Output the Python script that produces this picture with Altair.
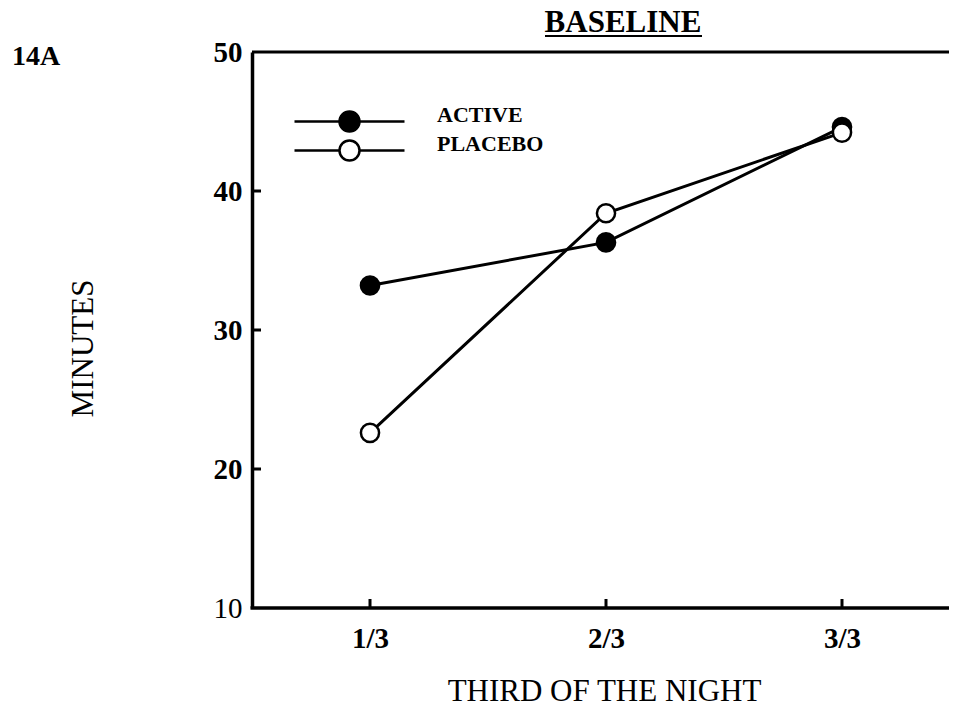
import altair as alt
import pandas as pd

# ---- data ----
thirds = ["1/3", "2/3", "3/3"]
active = [33.2, 36.3, 44.6]
placebo = [22.6, 38.4, 44.2]
series_names = ["ACTIVE", "PLACEBO"]
y_tick_values = [10, 20, 30, 40, 50]
inner_y_ticks = [20, 30, 40]

W, H = 697, 556
SERIF = "Liberation Serif"

df = pd.DataFrame({
    "third": thirds * 2,
    "minutes": active + placebo,
    "series": [series_names[0]] * 3 + [series_names[1]] * 3,
})

x_enc = alt.X("third:O", sort=thirds,
              scale=alt.Scale(type="point", range=[118, 590], padding=0),
              axis=alt.Axis(title="THIRD OF THE NIGHT", labelAngle=0,
                            labelFont=SERIF, labelFontSize=29, labelFontWeight="bold",
                            labelPadding=16, ticks=False, grid=False, domain=False,
                            titleFont=SERIF, titleFontSize=31, titleFontWeight="normal",
                            titleX=352, titleY=92, titleBaseline="alphabetic",
                            titleAlign="center", titleAnchor="middle", labelColor="black",
                            titleColor="black"))
y_enc = alt.Y("minutes:Q",
              scale=alt.Scale(domain=[10, 50], nice=False, zero=False),
              axis=alt.Axis(title="MINUTES", values=y_tick_values,
                            labelFont=SERIF, labelFontSize=29,
                            labelFontWeight={"condition": {"test": "datum.value == 10", "value": "normal"},
                                             "value": "bold"},
                            labelPadding=10, ticks=False, grid=False,
                            domainColor="black", domainWidth=3.5,
                            titleFont=SERIF, titleFontSize=31, titleFontWeight="normal",
                            titleAngle=-90, titleX=-160, titleY=296,
                            titleBaseline="alphabetic", titleAlign="center",
                            labelColor="black", titleColor="black"))

lines = alt.Chart(df).mark_line(color="black", strokeWidth=3).encode(
    x=x_enc, y=y_enc, detail="series:N")

# legend symbol: line with a circle (unit = circle radius)
legend_path = ("M-5.5,0L-1,0M1,0L5.5,0"
               "M-1,0A1,1,0,1,0,1,0A1,1,0,1,0,-1,0Z")

points = alt.Chart(df).mark_point(shape="circle", size=330, stroke="black",
                                  strokeWidth=2.5, opacity=1, fillOpacity=1).encode(
    x=x_enc, y=y_enc,
    fill=alt.Fill("series:N",
                  scale=alt.Scale(domain=series_names, range=["black", "white"]),
                  legend=alt.Legend(title=None, orient="none", legendX=86, legendY=58,
                                    symbolType=legend_path, symbolSize=400,
                                    symbolStrokeColor="black", symbolStrokeWidth=2.5,
                                    labelFont=SERIF, labelFontSize=22, labelFontWeight="bold",
                                    labelColor="black", labelOffset=76, rowPadding=-5,
                                    padding=0, labelBaseline="alphabetic")))

top_border = alt.Chart(pd.DataFrame({"k": [0]})).mark_rule(
    color="black", strokeWidth=3).encode(
    x=alt.value(0), x2=alt.value(W), y=alt.value(0))

bottom_border = alt.Chart(pd.DataFrame({"k": [0]})).mark_rule(
    color="black", strokeWidth=3.5).encode(
    x=alt.value(-1.5), x2=alt.value(W), y=alt.value(H))

yt = alt.Chart(pd.DataFrame({"minutes": inner_y_ticks})).mark_rule(
    color="black", strokeWidth=3).encode(
    y=y_enc, x=alt.value(0), x2=alt.value(9))

xt = alt.Chart(pd.DataFrame({"third": thirds})).mark_rule(
    color="black", strokeWidth=3).encode(
    x=x_enc, y=alt.value(H), y2=alt.value(H - 9))

panel_label = alt.Chart(pd.DataFrame({"lab": ["14A"]})).mark_text(
    font=SERIF, fontSize=28, fontWeight="bold", align="left", baseline="alphabetic",
    color="black").encode(text="lab:N", x=alt.value(-240), y=alt.value(13))

title_text = alt.Chart(pd.DataFrame({"lab": ["BASELINE"]})).mark_text(
    font=SERIF, fontSize=31, fontWeight="bold", align="center", baseline="alphabetic",
    color="black").encode(text="lab:N", x=alt.value(371), y=alt.value(-20))

underline = alt.Chart(pd.DataFrame({"k": [0]})).mark_rule(
    color="black", strokeWidth=2).encode(
    x=alt.value(293), x2=alt.value(450), y=alt.value(-16))

chart = alt.layer(top_border, bottom_border, yt, xt, lines, points,
                  panel_label, title_text, underline).properties(
    width=W, height=H,
    autosize=alt.AutoSizeParams(type="none"),
    padding={"left": 244, "top": 44, "right": 0, "bottom": 100},
).configure_view(stroke=None).configure(background="white")

chart.save("out.html", embed_options={"renderer": "svg", "actions": False})
